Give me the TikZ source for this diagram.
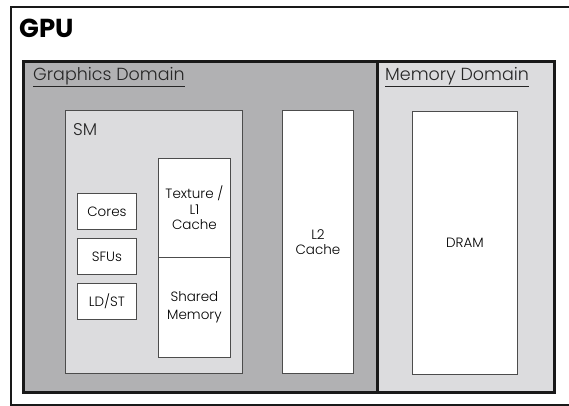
\documentclass[tikz,border=0pt]{standalone}
\usepackage{fontspec}
\setmainfont{Poppins}[UprightFont=* Light, BoldFont=* Bold]
\begin{document}
\begin{tikzpicture}[x=1pt,y=-1pt,
  box/.style={draw=black!70, line width=0.9pt, fill=white, anchor=north west, inner sep=0pt},
  smallbox/.style={box, minimum width=59pt, minimum height=36pt, font=\fontsize{13.5}{15}\selectfont},
  dom/.style={draw=black!90, line width=2.8pt, anchor=north west, inner sep=0pt},
  lbl/.style={inner sep=0pt, text=black!85},
]
\definecolor{gfxgray}{HTML}{B1B1B3}
\definecolor{memgray}{HTML}{DCDCDE}
\useasboundingbox (0,0) rectangle (569,406);
% outer GPU frame (its right side runs past the page edge)
\node[draw=black!90, line width=2.4pt, anchor=north west, minimum width=600pt, minimum height=398pt, inner sep=0pt] (gpu) at (10,6) {};
\node[inner sep=0pt, anchor=west, font=\fontsize{26}{28}\selectfont\bfseries] (gputxt) at (19,28) {GPU};
% domains
\node[dom, fill=gfxgray, minimum width=354pt, minimum height=331pt] (gfx) at (22,60) {};
\node[dom, fill=memgray, minimum width=177pt, minimum height=331pt] (mem) at (376,60) {};
\node[lbl, anchor=west, font=\fontsize{17.5}{19}\selectfont] (gfxtxt) at (33,77) {\underline{Graphics Domain}};
\node[lbl, anchor=west, font=\fontsize{17.5}{19}\selectfont] (memtxt) at (385,77) {\underline{Memory Domain}};
% SM
\node[box, fill=memgray, minimum width=177pt, minimum height=263pt] (sm) at (65,110) {};
\node[lbl, anchor=west, font=\fontsize{17}{19}\selectfont] (smtxt) at (73,130) {SM};
\node[smallbox] (cores) at (77,193) {Cores};
\node[smallbox] (sfus) at (77,238) {SFUs};
\node[smallbox] (ldst) at (77,283) {LD/ST};
\node[box, minimum width=72pt, minimum height=99pt, align=center, font=\fontsize{13.5}{15.5}\selectfont] (tex) at (158,158) {Texture /\\L1\\Cache};
\node[box, minimum width=72pt, minimum height=100pt, align=center, font=\fontsize{13.5}{18}\selectfont] (shm) at (158,257) {Shared\\Memory};
% L2 and DRAM
\node[box, minimum width=71pt, minimum height=263pt, align=center, font=\fontsize{13.5}{15}\selectfont] (l2) at (282,110) {L2\\Cache};
\node[box, minimum width=105pt, minimum height=263pt, font=\fontsize{13.5}{15}\selectfont] (dram) at (412,111) {DRAM};
\end{tikzpicture}
\end{document}
